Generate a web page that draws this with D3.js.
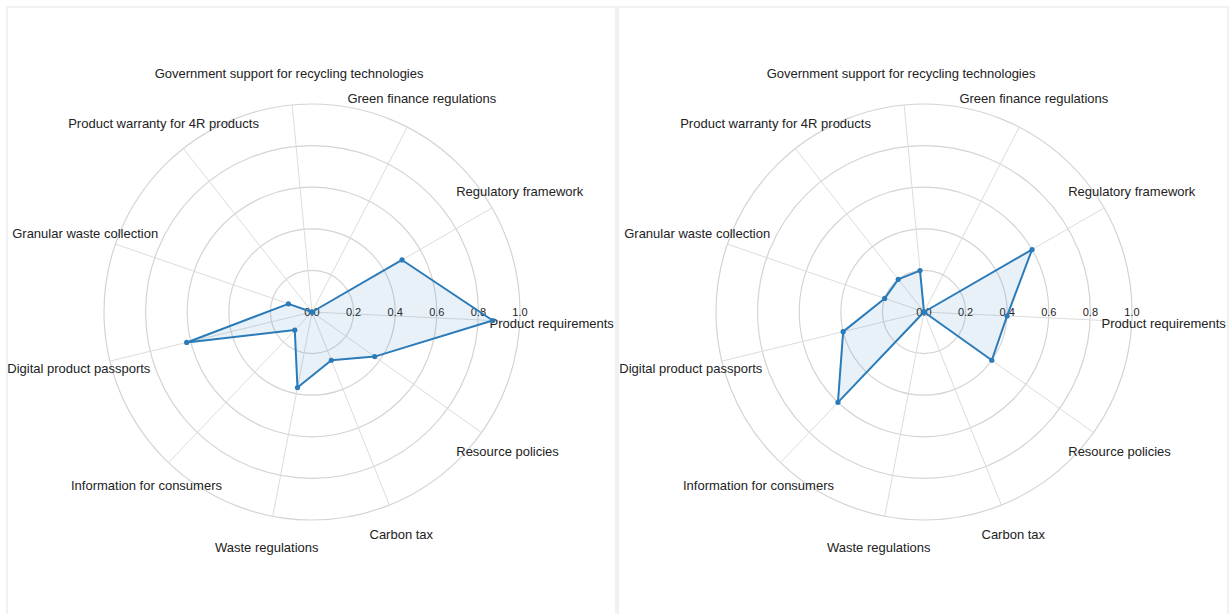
<!DOCTYPE html>
<html>
<head>
<meta charset="utf-8">
<script src="https://cdn.jsdelivr.net/npm/d3@7"></script>
<style>
  body { margin: 0; background: #fff; font-family: "Liberation Sans", Arial, sans-serif; }
  #wrap { position: relative; width: 1231px; height: 614px; overflow: hidden; }
  .panel { position: absolute; top: 6px; width: 611px; height: 620px; border: 2px solid #eef2f2; box-sizing: border-box; }
</style>
</head>
<body>
<div id="wrap">
  <div class="panel" style="left:6px"></div>
  <div class="panel" style="left:617px; width:612px"></div>
  <svg id="chart" width="1231" height="614" style="position:absolute;left:0;top:0"></svg>
</div>
<script>
// categories in drawing order (counter-clockwise from the right)
const categories = [
  "Product requirements",
  "Regulatory framework",
  "Green finance regulations",
  "Government support for recycling technologies",
  "Product warranty for 4R products",
  "Granular waste collection",
  "Digital product passports",
  "Information for consumers",
  "Waste regulations",
  "Carbon tax",
  "Resource policies"
];

// values
const valuesA = [0.87, 0.5, 0, 0, 0, 0.12, 0.62, 0.12, 0.37, 0.25, 0.37];
const valuesB = [0.4, 0.6, 0, 0.2, 0.2, 0.2, 0.4, 0.6, 0, 0, 0.4];

const radialTicks = [0, 0.2, 0.4, 0.6, 0.8, 1.0];

const svg = d3.select("#chart");
const radius = 208;
const labelRadius = 240;
const startAngle = -2.7 * Math.PI / 180;

const rScale = d3.scaleLinear().domain([0, 1]).range([0, radius]);
const aScale = d3.scaleLinear()
  .domain([0, categories.length])
  .range([startAngle, startAngle + 2 * Math.PI]);

const px = (a, r) => r * Math.cos(a);
const py = (a, r) => -r * Math.sin(a);

function drawRadar(cx, cy, values) {
  const g = svg.append("g").attr("transform", `translate(${cx},${cy})`);

  // circles
  g.selectAll(".ring")
    .data(radialTicks.filter(d => d > 0))
    .join("circle")
    .attr("r", d => rScale(d))
    .attr("fill", "none")
    .attr("stroke", "#d4d4d4")
    .attr("stroke-width", 1.2);

  // spokes
  g.selectAll(".spoke")
    .data(categories)
    .join("line")
    .attr("x1", 0).attr("y1", 0)
    .attr("x2", (d, i) => px(aScale(i), radius))
    .attr("y2", (d, i) => py(aScale(i), radius))
    .attr("stroke", "#dcdcdc")
    .attr("stroke-width", 1);

  // category labels
  g.selectAll(".cat")
    .data(categories)
    .join("text")
    .attr("x", (d, i) => px(aScale(i), labelRadius))
    .attr("y", (d, i) => py(aScale(i), labelRadius))
    .attr("text-anchor", "middle")
    .attr("dominant-baseline", "central")
    .style("font-size", "13px")
    .style("fill", "#222")
    .text(d => d);

  // radial tick labels
  g.selectAll(".tick")
    .data(radialTicks)
    .join("text")
    .attr("x", d => rScale(d))
    .attr("y", 0)
    .attr("text-anchor", "middle")
    .attr("dominant-baseline", "central")
    .style("font-size", "11px")
    .style("fill", "#222")
    .text(d => d.toFixed(1));

  // data polygon
  const line = d3.lineRadial()
    .angle((d, i) => Math.PI / 2 - aScale(i))
    .radius(d => rScale(d))
    .curve(d3.curveLinearClosed);

  g.append("path")
    .datum(values)
    .attr("d", line)
    .attr("fill", "rgba(31,119,180,0.1)")
    .attr("stroke", "#2b7bb9")
    .attr("stroke-width", 2)
    .attr("stroke-linejoin", "round");

  g.selectAll(".dot")
    .data(values)
    .join("circle")
    .attr("cx", (d, i) => px(aScale(i), rScale(d)))
    .attr("cy", (d, i) => py(aScale(i), rScale(d)))
    .attr("r", 2.6)
    .attr("fill", "#2b7bb9");
}

drawRadar(312, 312, valuesA);
drawRadar(924, 312, valuesB);
</script>
</body>
</html>
